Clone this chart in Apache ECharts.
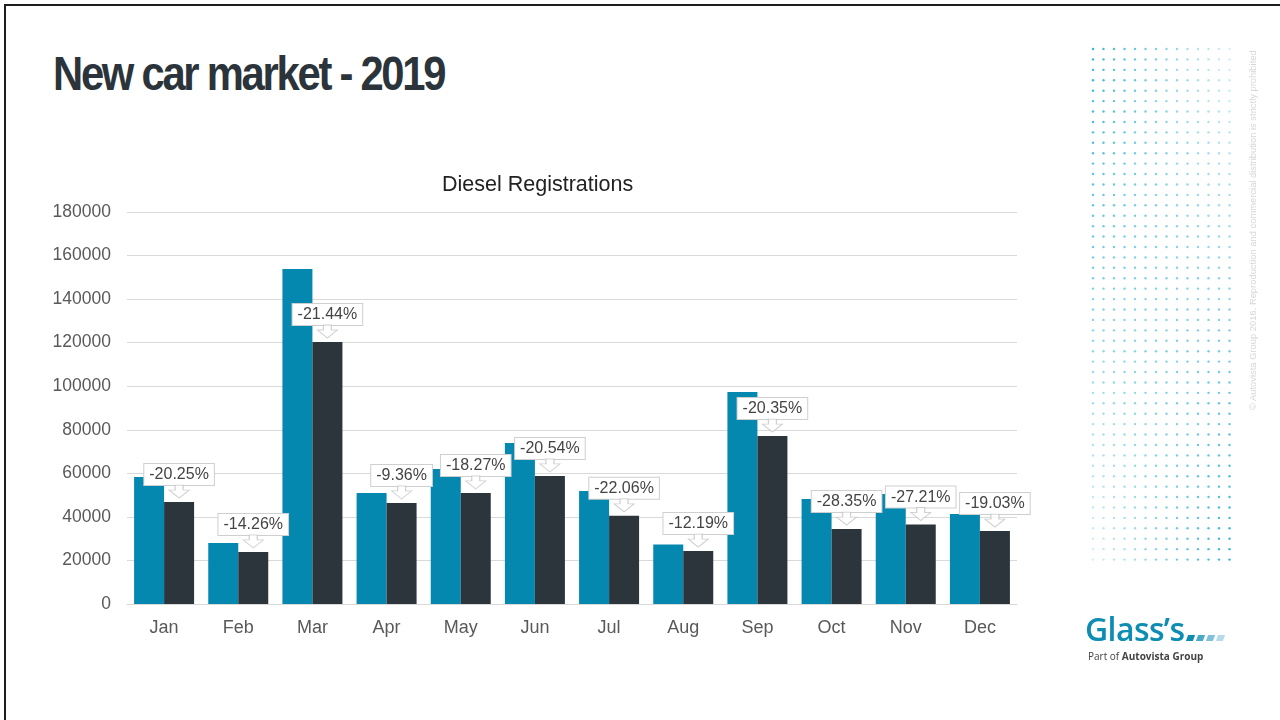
<!DOCTYPE html>
<html>
<head>
<meta charset="utf-8">
<script src="https://cdn.jsdelivr.net/npm/echarts@6/dist/echarts.min.js"></script>
<style>
  html, body { margin: 0; padding: 0; background: #fff; }
  #page { position: relative; width: 1280px; height: 720px; overflow: hidden; font-family: "Liberation Sans", Arial, sans-serif; }
  #frame { position: absolute; left: 4px; top: 4px; width: 1400px; height: 800px; border-left: 2px solid #1e1e1e; border-top: 2px solid #1e1e1e; }
  #title { position: absolute; left: 53px; top: 48px; font-size: 48px; font-weight: bold; color: #2b343a; letter-spacing: -2.6px; transform: scaleX(0.87); transform-origin: left top; white-space: nowrap; line-height: 52px; }
  #chart { position: absolute; left: 0; top: 0; width: 1280px; height: 720px; }
  #dots { position: absolute; left: 1088px; top: 44px; }
  #copy { position: absolute; left: 1247px; top: 416px; transform: rotate(-90deg); transform-origin: left top; font-size: 9.4px; color: #d6d6d6; white-space: nowrap; margin-top: -6px; }
  #logo { position: absolute; left: 1085px; top: 609px; }
  #logo .brand { font-family: "Open Sans", sans-serif; font-weight: 600; font-size: 32px; color: #0e8db3; letter-spacing: -0.6px; line-height: 40px; }
  #logo .sq { display: inline-block; width: 7px; height: 6px; transform: skewX(-20deg); margin-left: 3px; }
  #logo .sub { font-family: "Open Sans", sans-serif; font-size: 10px; color: #444; margin-top: 0px; margin-left: 3px; }
</style>
</head>
<body>
<div id="page">
  <div id="frame"></div>
  <div id="title">New car market - 2019</div>
  <div id="chart"></div>
  <canvas id="dots" width="150" height="525"></canvas>
  <div id="copy">© Autovista Group 2016. Reproduction and commercial distribution is strictly prohibited</div>
  <div id="logo">
    <div class="brand">Glass’s<span class="sq" style="background:#0e8db3"></span><span class="sq" style="background:#4aa8c8"></span><span class="sq" style="background:#80c2da"></span><span class="sq" style="background:#b6dbe8"></span></div>
    <div class="sub">Part of <b>Autovista Group</b></div>
  </div>
</div>
<script>
// data
const months = ['Jan', 'Feb', 'Mar', 'Apr', 'May', 'Jun', 'Jul', 'Aug', 'Sep', 'Oct', 'Nov', 'Dec']
const diesel2018 = [58300, 28000, 153800, 51000, 62000, 73900, 51900, 27300, 97300, 48200, 50500, 41300]
const diesel2019 = [46800, 23900, 120300, 46400, 51000, 58800, 40500, 24300, 77100, 34400, 36500, 33500]
const changePct = ['-20.25%', '-14.26%', '-21.44%', '-9.36%', '-18.27%', '-20.54%', '-22.06%', '-12.19%', '-20.35%', '-28.35%', '-27.21%', '-19.03%']
const yTicks = [0, 20000, 40000, 60000, 80000, 100000, 120000, 140000, 160000, 180000]

// decorative dot pattern
const cv = document.getElementById('dots')
const ctx = cv.getContext('2d')
const cols = 14, rows = 50
for (let r = 0; r < rows; r++) {
  for (let c = 0; c < cols; c++) {
    const fr = r / (rows - 1), fc = c / (cols - 1)
    const top = 0.95 - 0.75 * fc
    const bot = 0.2 + 0.75 * fc
    const a = top * (1 - fr) + bot * fr
    ctx.fillStyle = 'rgba(40,176,210,' + a.toFixed(2) + ')'
    ctx.beginPath()
    ctx.arc(5 + c * 10.5, 5 + r * 10.42, 1.2, 0, Math.PI * 2)
    ctx.fill()
  }
}

const myChart = echarts.init(document.getElementById('chart'))
const option = {
  animation: false,
  color: ['#0588B0', '#2C353C'],
  title: {
    text: 'Diesel Registrations',
    left: 437,
    top: 169,
    textStyle: { fontFamily: 'Liberation Sans', fontSize: 21.5, fontWeight: 'normal', color: '#222' }
  },
  grid: { left: 127, right: 263, top: 212, bottom: 116 },
  xAxis: {
    type: 'category',
    data: months,
    axisTick: { show: false },
    axisLine: { lineStyle: { color: '#d9d9d9' } },
    axisLabel: { color: '#595959', fontSize: 18, margin: 15, fontFamily: 'Liberation Sans' }
  },
  yAxis: {
    type: 'value',
    min: yTicks[0],
    max: yTicks[yTicks.length - 1],
    interval: yTicks[1] - yTicks[0],
    axisLine: { show: false },
    axisTick: { show: false },
    axisLabel: { color: '#595959', fontSize: 17.5, margin: 16, fontFamily: 'Liberation Sans', formatter: (v) => String(v) },
    splitLine: { lineStyle: { color: '#d9d9d9' } }
  },
  series: [
    {
      name: '2018',
      type: 'bar',
      data: diesel2018,
      barWidth: 30,
      barGap: '0%',
      z: 2
    },
    {
      name: '2019',
      type: 'bar',
      data: diesel2019,
      barWidth: 30,
      barGap: '0%',
      z: 2,
      label: {
        show: true,
        position: 'top',
        distance: 17,
        formatter: (p) => changePct[p.dataIndex],
        fontFamily: 'Liberation Sans',
        fontSize: 16,
        color: '#444',
        backgroundColor: '#fff',
        borderColor: '#cfcfcf',
        borderWidth: 1,
        padding: [3, 5, 2, 5]
      }
    },
    {
      // callout arrows under the labels
      name: 'arrow',
      type: 'scatter',
      data: diesel2019,
      z: 5,
      symbol: 'path://M6,0 L14,0 L14,5 L20,5 L10,13 L0,5 L6,5 Z',
      symbolSize: [20, 13],
      symbolOffset: [15, -10.5],
      itemStyle: { color: '#fff', borderColor: '#c4c4c4', borderWidth: 1 },
      silent: true
    }
  ]
}
myChart.setOption(option)
</script>
</body>
</html>
